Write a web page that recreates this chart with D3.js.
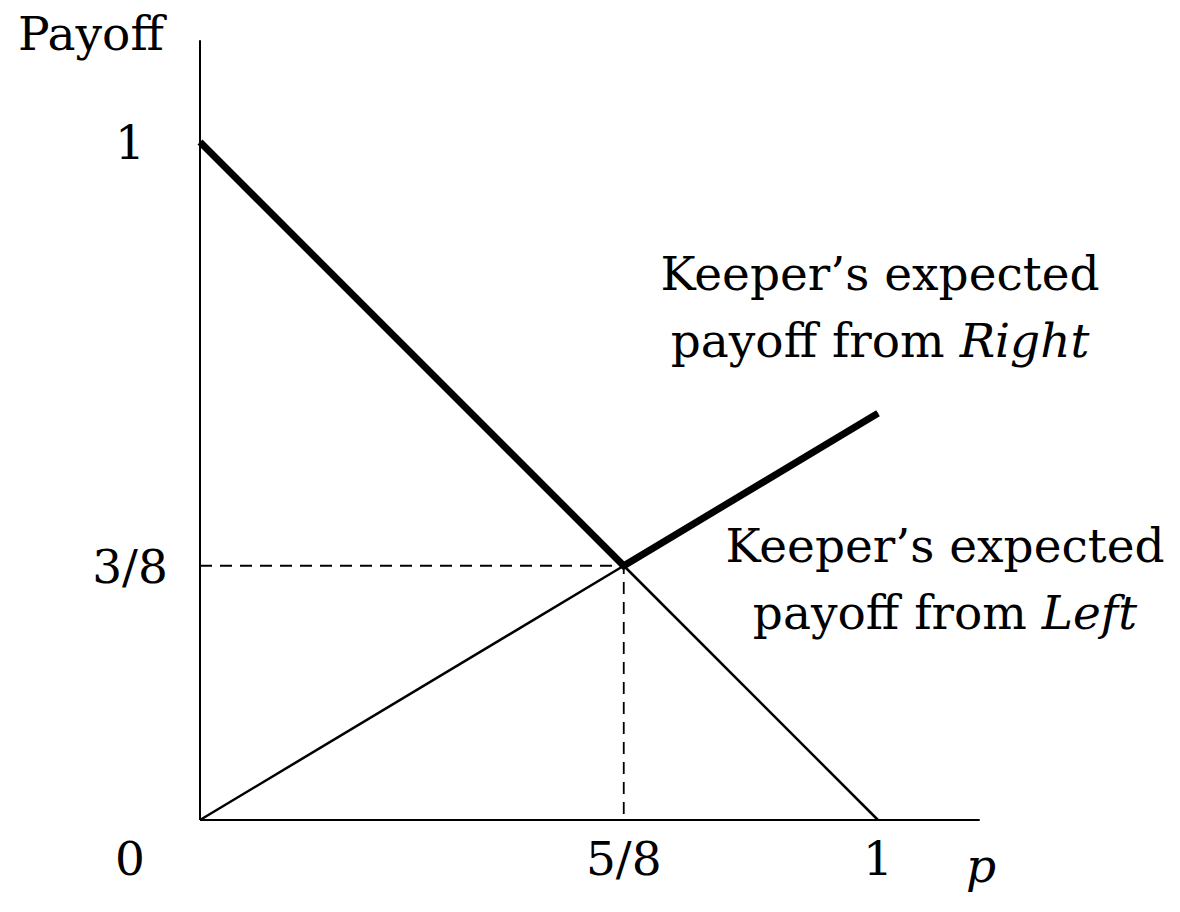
<!DOCTYPE html>
<html>
<head>
<meta charset="utf-8">
<script src="https://cdn.jsdelivr.net/npm/d3@7"></script>
<style>
  html, body { margin: 0; padding: 0; background: #fff; }
  text { font-family: "DejaVu Serif", "Liberation Serif", serif; fill: #000; }
</style>
</head>
<body>
<svg id="chart" width="1180" height="912"></svg>
<script>
// Data
const pTicks = [0, 5 / 8, 1];
const pTickLabels = ['0', '5/8', '1'];
const payoffTicks = [1, 3 / 8];
const payoffTickLabels = ['1', '3/8'];
const axisMax = 1.15;
const equilibrium = [5 / 8, 3 / 8];
// expected payoffs at p = 0, 5/8, 1
const leftPoints = [[0, 1], [5 / 8, 3 / 8], [1, 0]];
const rightPoints = [[0, 0], [5 / 8, 3 / 8], [1, 0.6]];
// upper envelope drawn heavy
const envelopePoints = [[0, 1], [5 / 8, 3 / 8], [1, 0.6]];

const svg = d3.select('#chart');
const x = d3.scaleLinear().domain([0, 1]).range([200, 878]);
const y = d3.scaleLinear().domain([0, 1]).range([820, 142]);

const line = d3.line().x(d => x(d[0])).y(d => y(d[1]));

// Axes
svg.append('line')
  .attr('x1', x(0)).attr('x2', x(axisMax))
  .attr('y1', y(0)).attr('y2', y(0))
  .attr('stroke', '#000').attr('stroke-width', 2);
svg.append('line')
  .attr('x1', x(0)).attr('x2', x(0))
  .attr('y1', y(0)).attr('y2', y(axisMax))
  .attr('stroke', '#000').attr('stroke-width', 2);

// Dashed guides to equilibrium
svg.append('path')
  .attr('d', line([[0, equilibrium[1]], equilibrium, [equilibrium[0], 0]]))
  .attr('fill', 'none')
  .attr('stroke', '#000')
  .attr('stroke-width', 1.8)
  .attr('stroke-dasharray', '12,8');

// Thin payoff lines
[leftPoints, rightPoints].forEach(pts => {
  svg.append('path')
    .attr('d', line(pts))
    .attr('fill', 'none')
    .attr('stroke', '#000')
    .attr('stroke-width', 2.5);
});

// Heavy envelope
svg.append('path')
  .attr('d', line(envelopePoints))
  .attr('fill', 'none')
  .attr('stroke', '#000')
  .attr('stroke-width', 7)
  .attr('stroke-linejoin', 'miter');

// Tick labels
const fs = 47;
svg.selectAll('.xtick')
  .data(pTicks)
  .enter().append('text')
  .attr('class', 'xtick')
  .attr('x', (d, i) => i === 0 ? 130 : x(d))
  .attr('y', 875)
  .attr('text-anchor', 'middle')
  .attr('font-size', fs)
  .text((d, i) => pTickLabels[i]);

svg.selectAll('.ytick')
  .data(payoffTicks)
  .enter().append('text')
  .attr('class', 'ytick')
  .attr('x', 130)
  .attr('y', d => y(d) + 17)
  .attr('text-anchor', 'middle')
  .attr('font-size', fs)
  .text((d, i) => payoffTickLabels[i]);

// Axis titles
svg.append('text')
  .attr('x', 18).attr('y', 50)
  .attr('font-size', fs)
  .text('Payoff');
svg.append('text')
  .attr('x', 966).attr('y', 882)
  .attr('font-size', fs)
  .attr('font-style', 'italic')
  .text('p');

// Line labels
function label(cx, y0, italicWord) {
  const t = svg.append('text')
    .attr('text-anchor', 'middle')
    .attr('font-size', fs);
  t.append('tspan').attr('x', cx).attr('y', y0).text('Keeper\u2019s expected');
  const l2 = t.append('tspan').attr('x', cx).attr('y', y0 + 67);
  l2.append('tspan').text('payoff from ');
  l2.append('tspan').attr('font-style', 'italic').text(italicWord);
}
label(880, 290, 'Right');
label(945, 562, 'Left');
</script>
</body>
</html>
